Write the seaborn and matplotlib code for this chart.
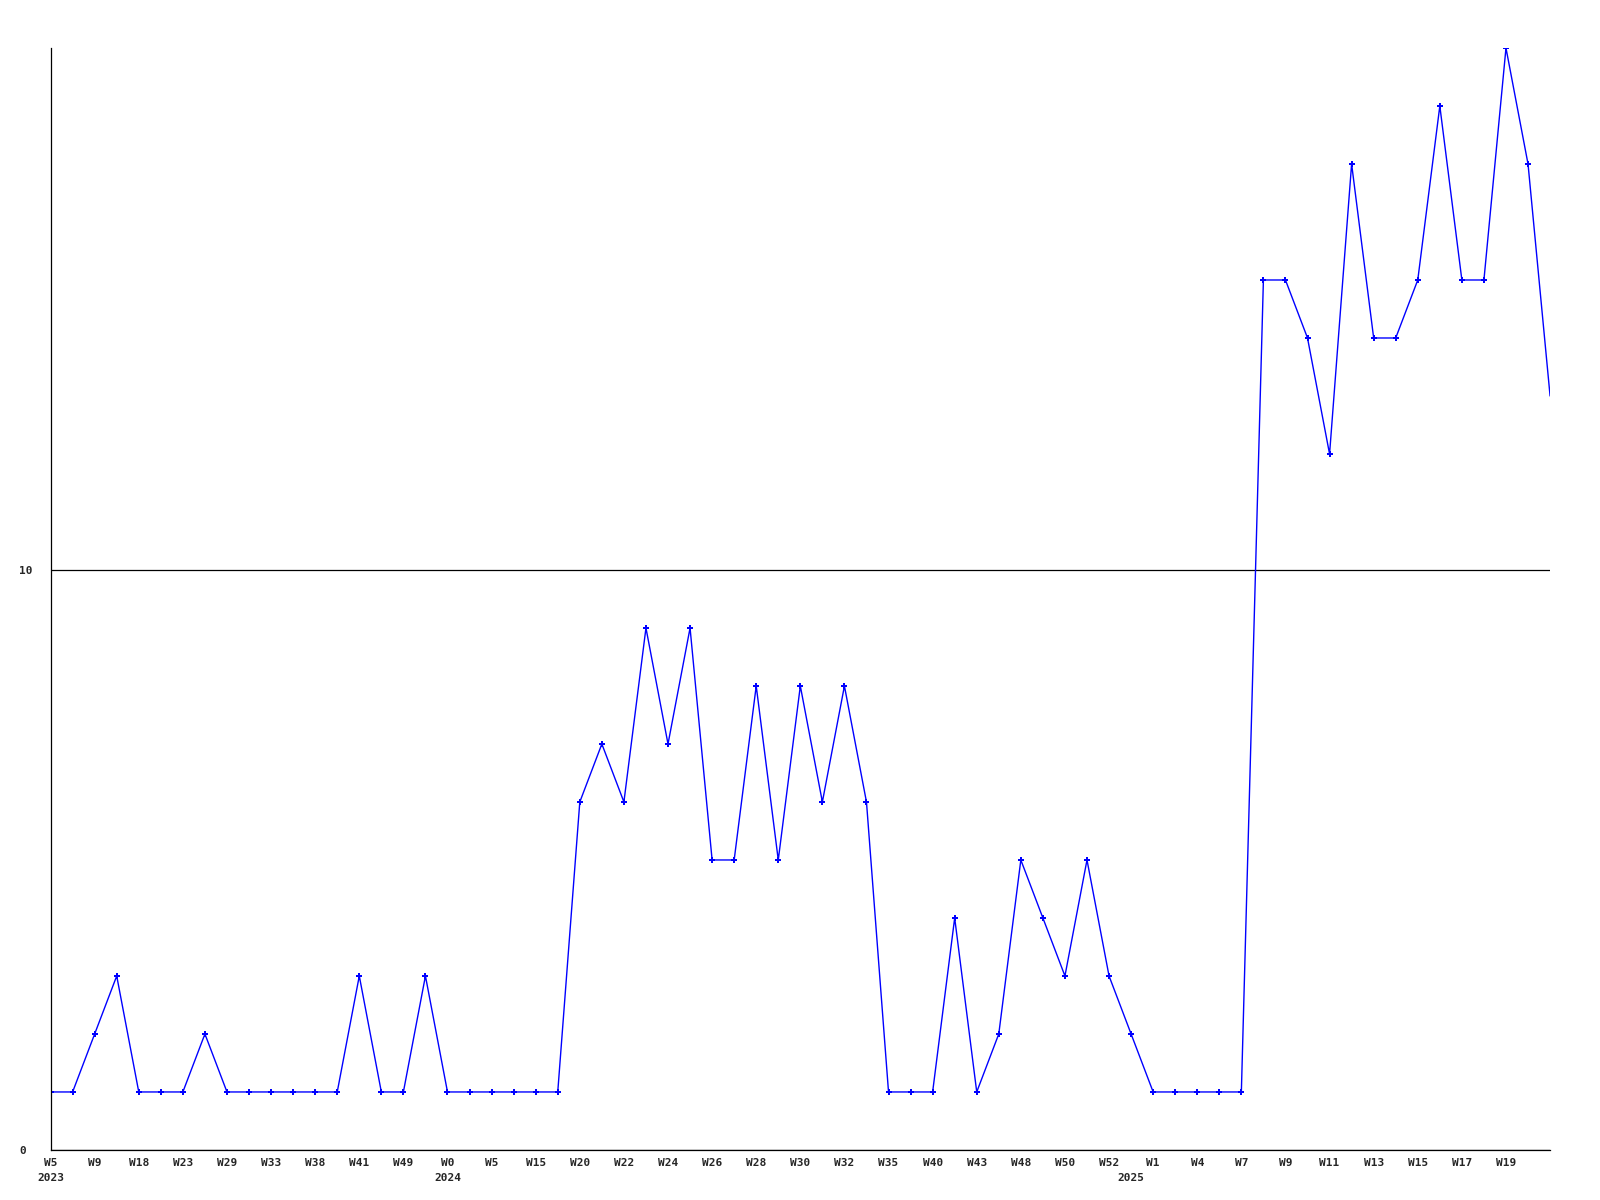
import seaborn as sns
import matplotlib.pyplot as plt
import pandas as pd

# weekly counts, one per point (plotted at even spacing)
counts = [1, 1, 2, 3, 1, 1, 1, 2, 1, 1, 1, 1, 1, 1, 3, 1, 1, 3, 1,
          1, 1, 1, 1, 1, 6, 7, 6, 9, 7, 9, 5, 5, 8, 5, 8, 6, 8, 6,
          1, 1, 1, 4, 1, 2, 5, 4, 3, 5, 3, 2, 1, 1, 1, 1, 1,
          15, 15, 14, 12, 17, 14, 14, 15, 18, 15, 15, 19, 17, 13]

# tick labels, shown on every second point
week_labels = ["W5", "W9", "W18", "W23", "W29", "W33", "W38", "W41", "W49",
               "W0", "W5", "W15", "W20", "W22", "W24", "W26", "W28", "W30",
               "W32", "W35", "W40", "W43", "W48", "W50", "W52", "W1", "W4",
               "W7", "W9", "W11", "W13", "W15", "W17", "W19"]
year_starts = [0, 18, 49]
year_labels = ["2023", "2024", "2025"]

y_ticks = [0, 10]
y_max = 19


def plot_weekly_counts():
    df = pd.DataFrame({"idx": range(len(counts)), "count": counts})

    fig = plt.figure(figsize=(16, 12), dpi=100)
    ax = fig.add_axes([0.0316, 0.0417, 0.9372, 0.9183])

    sns.lineplot(data=df, x="idx", y="count", color="#0000ff", linewidth=1.0,
                 marker="P", markersize=4.5, markeredgewidth=0,
                 markevery=list(range(len(counts) - 1)), ax=ax)

    label_font = dict(fontfamily="DejaVu Sans Mono", fontweight="bold", fontsize=8)

    # week labels on every second point
    ax.set_xticks(range(0, 2 * len(week_labels), 2))
    ax.set_xticklabels(week_labels, **label_font)
    ax.tick_params(axis="x", which="major", length=0, pad=6)

    # year labels under the first point of each year
    ax.xaxis.remove_overlapping_locs = False
    ax.set_xticks(year_starts, minor=True)
    ax.set_xticklabels(year_labels, minor=True, **label_font)
    ax.tick_params(axis="x", which="minor", length=0, pad=16.5)

    ax.set_yticks(y_ticks)
    ax.set_yticklabels([str(v) for v in y_ticks], **label_font)
    for lab in ax.get_yticklabels():
        lab.set_horizontalalignment("left")
    ax.tick_params(axis="y", length=0, pad=22.7)

    ax.set_xlim(0, len(counts) - 1)
    ax.set_ylim(0, y_max)
    ax.set_xlabel(None)
    ax.set_ylabel(None)

    ax.grid(axis="y", color="black", linewidth=0.9)
    ax.grid(axis="x", visible=False)
    sns.despine(ax=ax)
    for side in ["left", "bottom"]:
        ax.spines[side].set_color("black")
        ax.spines[side].set_linewidth(0.9)

    fig.savefig("out.png", dpi=100, facecolor="white")


if __name__ == '__main__':
    sns.set_style("white")
    plot_weekly_counts()
